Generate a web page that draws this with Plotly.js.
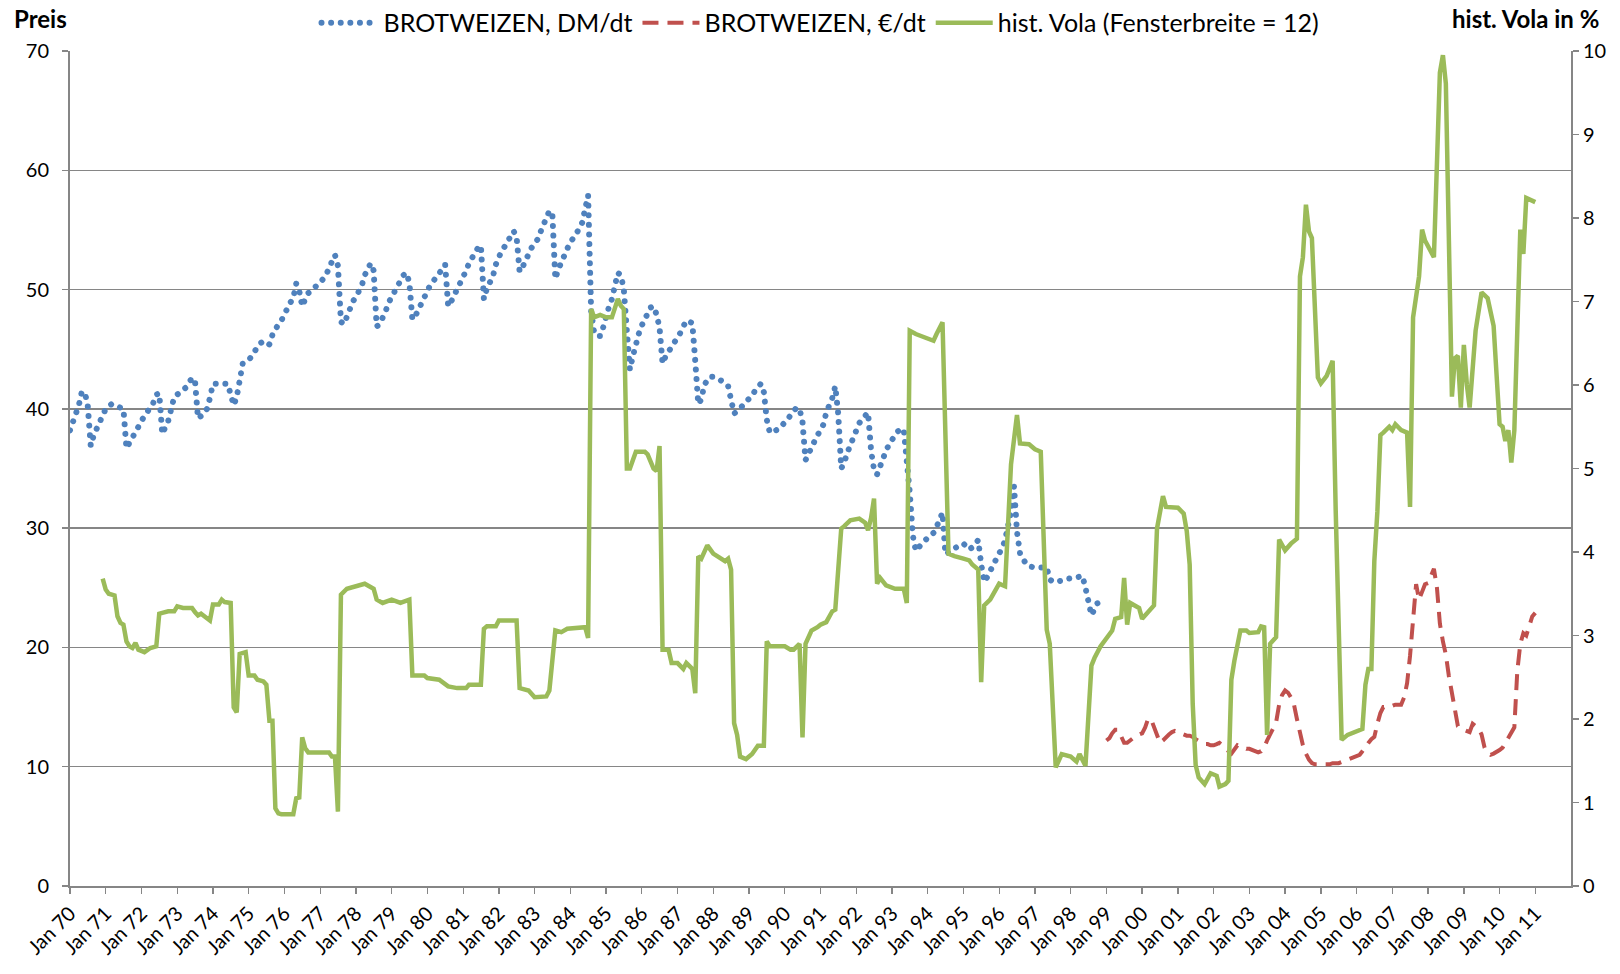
<!DOCTYPE html>
<html>
<head>
<meta charset="utf-8">
<script src="https://cdn.plot.ly/plotly-3.0.1.min.js"></script>
<style>
html,body{margin:0;padding:0;background:#ffffff;}
#chart{width:1620px;height:974px;}
</style>
</head>
<body>
<div id="chart"></div>
<script>
// ---------------- DATA ----------------
// Brotweizen price in DM/dt, monthly from Jan 1970
const priceDmStart = '1970-01';
const priceDm = [
  38.2, 38.9, 39.6, 40.3, 41.4, 41.4, 40.3, 36.9, 37.8, 38.3, 38.8, 39.5,
  40.0, 40.2, 40.4, 40.3, 40.2, 40.1, 40.0, 36.7, 37.1, 37.5, 38.0, 38.5,
  39.0, 39.4, 39.8, 40.1, 40.5, 41.2, 41.3, 37.9, 38.5, 39.0, 40.0, 41.0,
  41.2, 41.4, 41.6, 41.8, 42.2, 42.6, 42.4, 39.2, 39.4, 39.7, 40.0, 40.9,
  42.1, 42.1, 42.1, 42.1, 42.1, 42.1, 41.2, 40.3, 41.0, 42.5, 43.8, 44.0,
  44.1, 44.4, 44.9, 45.2, 45.5, 45.7, 45.6, 45.4, 46.2, 46.7, 47.1, 47.4,
  48.0, 48.5, 48.9, 49.3, 50.5, 49.9, 48.6, 49.2, 49.7, 49.9, 50.1, 50.3,
  50.6, 50.9, 51.2, 51.8, 52.4, 52.9, 52.0, 47.3, 47.1, 47.8, 48.4, 49.0,
  49.4, 49.9, 50.3, 51.2, 51.7, 52.2, 51.6, 46.9, 47.1, 47.6, 48.2, 48.9,
  49.4, 49.9, 50.4, 50.8, 51.2, 51.4, 50.6, 47.5, 47.8, 48.3, 48.9, 49.4,
  50.0, 50.4, 50.7, 51.0, 51.3, 51.7, 52.1, 48.6, 49.0, 49.5, 50.0, 50.4,
  51.1, 51.6, 52.2, 52.7, 53.1, 53.5, 53.7, 49.2, 50.1, 50.6, 51.1, 52.1,
  52.9, 53.3, 53.6, 54.0, 54.6, 54.9, 54.4, 51.5, 51.9, 52.5, 53.0, 53.5,
  53.9, 54.2, 54.8, 55.5, 56.0, 56.6, 56.4, 50.9, 51.7, 52.3, 52.9, 53.6,
  54.0, 54.3, 54.6, 55.1, 55.6, 56.8, 57.9, 48.2, 46.4, 46.1, 46.1, 46.8,
  47.9, 48.6, 49.2, 50.3, 51.4, 51.2, 50.0, 46.5, 43.3, 44.4, 45.5, 46.3,
  47.0, 47.6, 48.1, 48.5, 48.6, 47.9, 46.8, 43.8, 44.4, 44.8, 45.1, 45.4,
  45.9, 46.4, 46.9, 47.4, 47.3, 47.2, 44.0, 40.4, 40.8, 42.0, 42.4, 42.7,
  42.7, 42.6, 42.5, 42.4, 42.2, 41.9, 40.8, 39.6, 39.8, 40.0, 40.3, 40.6,
  40.8, 41.1, 41.5, 41.9, 42.1, 41.4, 39.1, 38.0, 38.1, 38.2, 38.3, 38.6,
  38.8, 39.1, 39.5, 39.8, 40.1, 40.0, 38.9, 35.7, 36.3, 36.8, 37.3, 37.8,
  38.2, 38.7, 39.7, 40.3, 40.9, 41.9, 39.6, 35.0, 35.5, 36.3, 37.0, 37.7,
  38.3, 38.8, 39.1, 39.4, 39.7, 36.5, 34.9, 34.5, 35.3, 35.9, 36.5, 37.0,
  37.5, 37.8, 38.1, 38.3, 38.3, 36.0, 33.0, 29.4, 28.1, 28.4, 28.7, 29.0,
  29.2, 29.4, 29.6, 30.1, 30.6, 31.3, 27.8, 27.9, 28.1, 28.3, 28.5, 28.6,
  28.7, 28.4, 28.2, 28.4, 28.7, 29.0, 27.0, 25.5, 25.9, 26.4, 27.0, 27.6,
  27.9, 28.3, 29.0, 30.2, 31.4, 33.5, 29.7, 27.9, 27.4, 27.0, 26.8, 26.7,
  26.7, 26.7, 26.7, 26.7, 26.7, 25.7, 25.5, 25.5, 25.5, 25.6, 25.7, 25.8,
  25.8, 25.8, 25.9, 26.0, 26.0, 25.0, 23.6, 22.7, 23.2, 23.7, 23.8, 23.8
];

// Brotweizen price in EUR/dt, monthly from Jan 1999
const priceEurStart = '1999-01';
const priceEur = [
  12.2, 12.4, 12.8, 13.1, 13.1, 12.5, 12.0, 12.0, 12.2, 12.5, 12.6, 12.7,
  12.8, 13.3, 14.0, 14.0, 13.3, 12.6, 12.0, 12.2, 12.5, 12.7, 12.9, 13.0,
  12.9, 12.8, 12.7, 12.6, 12.6, 12.5, 12.3, 12.1, 12.0, 11.9, 11.9, 11.8,
  11.8, 11.9, 12.0, 11.8, 11.5, 11.3, 11.1, 11.4, 11.8, 11.7, 11.6, 11.5,
  11.5, 11.4, 11.3, 11.2, 11.3, 11.6, 12.2, 12.7, 13.2, 13.7, 15.2, 16.0,
  16.4, 16.2, 15.8, 15.2, 14.0, 12.7, 11.8, 11.1, 10.6, 10.3, 10.2, 10.2,
  10.2, 10.2, 10.2, 10.2, 10.3, 10.3, 10.3, 10.4, 10.5, 10.6, 10.7, 10.8,
  10.9, 11.0, 11.3, 11.7, 12.0, 12.3, 12.5, 13.6, 14.5, 15.0, 15.0, 15.1,
  15.1, 15.2, 15.2, 15.2, 15.8, 17.0, 19.3, 22.5, 25.3, 24.0, 24.6, 25.3,
  25.4, 26.0, 26.6, 25.0, 22.0, 20.5, 19.4, 17.6, 16.2, 14.6, 13.4, 13.2,
  13.1, 13.0, 12.9, 13.6, 13.4, 13.2, 12.7, 11.6, 11.2, 11.0, 11.1, 11.3,
  11.4, 11.6, 12.0, 12.4, 12.9, 13.3, 18.0, 20.3, 21.2, 21.0, 21.8, 22.6,
  22.9
];

// Historical volatility (window 12), in %, read at the turning points of the line
const volaDates = [
  '1970-12','1971-01','1971-02','1971-04','1971-05','1971-06','1971-07','1971-08','1971-09','1971-10','1971-11','1971-12',
  '1972-02','1972-04','1972-06','1972-07','1972-08','1972-10','1972-12','1973-01','1973-03','1973-06','1973-07','1973-08',
  '1973-09','1973-11','1973-12','1974-01','1974-03','1974-04','1974-05','1974-07','1974-08','1974-09','1974-10','1974-12',
  '1975-01','1975-03','1975-04','1975-06','1975-07','1975-08','1975-09','1975-10','1975-11','1975-12','1976-04','1976-05',
  '1976-06','1976-07','1976-08','1976-09','1977-04','1977-05','1977-06','1977-07','1977-08','1977-10','1978-01','1978-04',
  '1978-07','1978-08','1978-10','1979-01','1979-04','1979-07','1979-08','1979-12','1980-01','1980-05','1980-08','1980-11',
  '1981-02','1981-03','1981-07','1981-08','1981-09','1981-12','1982-01','1982-07','1982-08','1982-11','1983-01','1983-05',
  '1983-06','1983-08','1983-10','1983-12','1984-06','1984-07','1984-08','1984-09','1984-11','1985-01','1985-03','1985-05',
  '1985-06','1985-07','1985-08','1985-09','1985-10','1985-11','1986-02','1986-03','1986-05','1986-06','1986-07','1986-08',
  '1986-10','1986-11','1987-01','1987-03','1987-04','1987-05','1987-06','1987-07','1987-08','1987-09','1987-11','1988-01',
  '1988-05','1988-06','1988-07','1988-08','1988-09','1988-10','1988-12','1989-02','1989-04','1989-06','1989-07','1989-08',
  '1990-01','1990-03','1990-04','1990-06','1990-07','1990-08','1990-10','1990-12','1991-01','1991-03','1991-05','1991-06',
  '1991-08','1991-09','1991-11','1992-02','1992-04','1992-05','1992-06','1992-07','1992-08','1992-09','1992-11','1993-02',
  '1993-05','1993-06','1993-07','1993-09','1994-01','1994-03','1994-04','1994-06','1994-08','1994-10','1995-01','1995-03',
  '1995-04','1995-05','1995-06','1995-07','1995-08','1995-10','1995-12','1996-01','1996-03','1996-05','1996-06','1996-07',
  '1996-08','1996-11','1997-01','1997-03','1997-05','1997-06','1997-08','1997-10','1998-01','1998-03','1998-04','1998-06',
  '1998-08','1998-09','1998-11','1999-01','1999-03','1999-04','1999-06','1999-07','1999-08','1999-09','1999-12','2000-01',
  '2000-05','2000-06','2000-08','2000-09','2001-01','2001-03','2001-04','2001-05','2001-06','2001-07','2001-08','2001-10',
  '2001-12','2002-02','2002-03','2002-05','2002-06','2002-07','2002-08','2002-10','2002-12','2003-01','2003-04','2003-05',
  '2003-06','2003-07','2003-08','2003-10','2003-11','2004-01','2004-03','2004-05','2004-06','2004-07','2004-08','2004-09',
  '2004-10','2004-12','2005-01','2005-03','2005-05','2005-06','2005-08','2005-10','2006-01','2006-03','2006-04','2006-05',
  '2006-06','2006-07','2006-08','2006-09','2006-10','2006-12','2007-01','2007-02','2007-04','2007-06','2007-07','2007-08',
  '2007-10','2007-11','2007-12','2008-02','2008-03','2008-05','2008-06','2008-07','2008-09','2008-10','2008-11','2008-12',
  '2009-01','2009-02','2009-03','2009-05','2009-07','2009-09','2009-11','2010-01','2010-02','2010-03','2010-04','2010-05',
  '2010-06','2010-08','2010-09','2010-10','2011-01'
];
const volaValues = [
  3.68, 3.55, 3.50, 3.48, 3.23, 3.15, 3.13, 2.93, 2.87, 2.85, 2.91, 2.83,
  2.80, 2.85, 2.87, 3.26, 3.27, 3.29, 3.29, 3.35, 3.33, 3.33, 3.28, 3.24,
  3.26, 3.21, 3.18, 3.37, 3.37, 3.43, 3.40, 3.39, 2.14, 2.08, 2.78, 2.80,
  2.52, 2.52, 2.47, 2.45, 2.41, 1.98, 1.98, 0.93, 0.87, 0.86, 0.86, 1.05,
  1.06, 1.78, 1.65, 1.60, 1.60, 1.55, 1.55, 0.89, 3.49, 3.56, 3.59, 3.62,
  3.56, 3.43, 3.39, 3.43, 3.39, 3.43, 2.52, 2.52, 2.49, 2.47, 2.39, 2.37,
  2.37, 2.41, 2.41, 3.08, 3.11, 3.11, 3.18, 3.18, 2.37, 2.34, 2.26, 2.27,
  2.34, 3.06, 3.04, 3.08, 3.10, 2.97, 6.91, 6.81, 6.84, 6.81, 6.81, 7.03,
  6.95, 6.91, 5.00, 5.00, 5.10, 5.20, 5.20, 5.17, 5.00, 4.97, 5.27, 2.83,
  2.83, 2.67, 2.67, 2.60, 2.67, 2.64, 2.60, 2.31, 3.95, 3.92, 4.08, 3.98,
  3.89, 3.92, 3.79, 1.95, 1.81, 1.55, 1.52, 1.58, 1.68, 1.68, 2.93, 2.87,
  2.87, 2.83, 2.83, 2.90, 1.78, 2.90, 3.06, 3.10, 3.13, 3.16, 3.29, 3.31,
  4.28, 4.31, 4.38, 4.40, 4.35, 4.26, 4.41, 4.64, 3.62, 3.69, 3.60, 3.56,
  3.56, 3.39, 6.65, 6.61, 6.55, 6.53, 6.61, 6.75, 3.98, 3.95, 3.92, 3.90,
  3.85, 3.82, 3.79, 2.44, 3.36, 3.43, 3.56, 3.62, 3.59, 5.05, 5.35, 5.64,
  5.30, 5.29, 5.23, 5.20, 3.07, 2.90, 1.42, 1.58, 1.55, 1.49, 1.58, 1.44,
  2.64, 2.73, 2.87, 2.97, 3.06, 3.20, 3.22, 3.69, 3.13, 3.39, 3.33, 3.20,
  3.36, 4.28, 4.67, 4.54, 4.53, 4.46, 4.25, 3.85, 2.18, 1.45, 1.30, 1.22,
  1.35, 1.32, 1.19, 1.22, 1.26, 2.47, 2.70, 3.06, 3.06, 3.03, 3.04, 3.11,
  3.10, 1.81, 2.90, 2.98, 4.15, 4.02, 4.10, 4.16, 7.30, 7.53, 8.16, 7.84,
  7.76, 6.09, 6.02, 6.11, 6.29, 4.51, 1.75, 1.81, 1.85, 1.88, 2.41, 2.60,
  2.60, 3.89, 4.48, 5.40, 5.43, 5.50, 5.46, 5.53, 5.46, 5.43, 4.54, 6.81,
  7.30, 7.86, 7.73, 7.60, 7.53, 9.74, 9.95, 9.61, 5.86, 6.32, 6.35, 5.73,
  6.48, 6.00, 5.73, 6.65, 7.11, 7.04, 6.71, 5.53, 5.50, 5.33, 5.46, 5.07,
  5.46, 7.86, 7.57, 8.24, 8.19
];

// Axis tick labels
const tickYears = [1970,1971,1972,1973,1974,1975,1976,1977,1978,1979,1980,1981,1982,1983,1984,1985,1986,1987,1988,1989,1990,
                   1991,1992,1993,1994,1995,1996,1997,1998,1999,2000,2001,2002,2003,2004,2005,2006,2007,2008,2009,2010,2011];
const tickLabels = ['Jan 70','Jan 71','Jan 72','Jan 73','Jan 74','Jan 75','Jan 76','Jan 77','Jan 78','Jan 79','Jan 80',
                    'Jan 81','Jan 82','Jan 83','Jan 84','Jan 85','Jan 86','Jan 87','Jan 88','Jan 89','Jan 90','Jan 91',
                    'Jan 92','Jan 93','Jan 94','Jan 95','Jan 96','Jan 97','Jan 98','Jan 99','Jan 00','Jan 01','Jan 02',
                    'Jan 03','Jan 04','Jan 05','Jan 06','Jan 07','Jan 08','Jan 09','Jan 10','Jan 11'];
const seriesNames = ['BROTWEIZEN, DM/dt', 'BROTWEIZEN, €/dt', 'hist. Vola (Fensterbreite = 12)'];

// ---------------- HELPERS ----------------
function monthSeq(start, n) {
  let [y, m] = start.split('-').map(Number);
  const out = [];
  for (let i = 0; i < n; i++) {
    out.push(y + '-' + String(m).padStart(2, '0') + '-01');
    m++; if (m > 12) { m = 1; y++; }
  }
  return out;
}

const FONT = 'Lato, "Open Sans", sans-serif';
const BLUE = '#4F81BD', RED = '#C0504D', GREEN = '#9BBB59', AXIS = '#868686';

const traces = [
  {
    x: monthSeq(priceDmStart, priceDm.length), y: priceDm,
    name: seriesNames[0], type: 'scatter', mode: 'lines',
    line: {color: BLUE, width: 6, dash: '4px,5.5px'},
    xaxis: 'x', yaxis: 'y', hoverinfo: 'skip'
  },
  {
    x: monthSeq(priceEurStart, priceEur.length), y: priceEur,
    name: seriesNames[1], type: 'scatter', mode: 'lines',
    line: {color: RED, width: 4, dash: '16px,9px'},
    xaxis: 'x', yaxis: 'y', hoverinfo: 'skip'
  },
  {
    x: volaDates, y: volaValues,
    name: seriesNames[2], type: 'scatter', mode: 'lines',
    line: {color: GREEN, width: 4.5},
    xaxis: 'x', yaxis: 'y2', hoverinfo: 'skip'
  }
];

const layout = {
  width: 1620, height: 974,
  margin: {l: 70, r: 49, t: 51, b: 88, autoexpand: false},
  paper_bgcolor: '#ffffff', plot_bgcolor: '#ffffff',
  font: {family: FONT, size: 20, color: '#000000'},
  showlegend: true,
  legend: {
    orientation: 'h', x: 0.5, xanchor: 'center', y: 1.0336, yanchor: 'middle',
    font: {family: FONT, size: 25, color: '#000000'},
    bgcolor: 'rgba(0,0,0,0)', itemwidth: 57, tracegroupgap: 0
  },
  xaxis: {
    type: 'date',
    range: ['1970-01-01', '2012-01-01'],
    tickmode: 'array',
    tickvals: tickYears.map(y => y + '-01-01'),
    ticktext: tickLabels,
    tickangle: -45,
    ticks: 'outside', ticklen: 6, tickwidth: 1.3, tickcolor: AXIS,
    showline: true, linecolor: AXIS, linewidth: 2,
    showgrid: false, zeroline: false,
    tickfont: {family: FONT, size: 20, color: '#000000'}
  },
  yaxis: {
    range: [0, 70], dtick: 10, tick0: 0,
    ticks: 'outside', ticklen: 6, tickwidth: 1.3, tickcolor: AXIS,
    ticklabelstandoff: 9,
    showline: true, linecolor: AXIS, linewidth: 2,
    showgrid: true, gridcolor: AXIS, gridwidth: 1.3,
    zeroline: false,
    tickfont: {family: FONT, size: 20, color: '#000000'}
  },
  yaxis2: {
    range: [0, 10], dtick: 1, tick0: 0,
    overlaying: 'y', side: 'right',
    ticks: 'outside', ticklen: 6, tickwidth: 1.3, tickcolor: AXIS,
    showline: true, linecolor: AXIS, linewidth: 2,
    showgrid: false, zeroline: false,
    tickfont: {family: FONT, size: 20, color: '#000000'}
  },
  annotations: [
    {text: '<b>Preis</b>', xref: 'paper', yref: 'paper', x: -0.0386, y: 1.0395,
     xanchor: 'left', yanchor: 'middle', showarrow: false,
     font: {family: FONT, size: 24, color: '#000000'}},
    {text: '<b>hist. Vola in %</b>', xref: 'paper', yref: 'paper', x: 1.02, y: 1.0395,
     xanchor: 'right', yanchor: 'middle', showarrow: false,
     font: {family: FONT, size: 24, color: '#000000'}}
  ]
};

function roundDots() {
  document.querySelectorAll('#chart path.js-line').forEach(p => {
    const s = (p.style.stroke || p.getAttribute('stroke') || '').replace(/\s/g, '').toLowerCase();
    if (s === 'rgb(79,129,189)' || s === '#4f81bd') {
      p.style.strokeLinecap = 'round';
      p.style.strokeDasharray = '0.01px, 9.6px';
    }
  });
}

Plotly.newPlot('chart', traces, layout, {displayModeBar: false, staticPlot: true}).then(roundDots);
</script>
</body>
</html>
